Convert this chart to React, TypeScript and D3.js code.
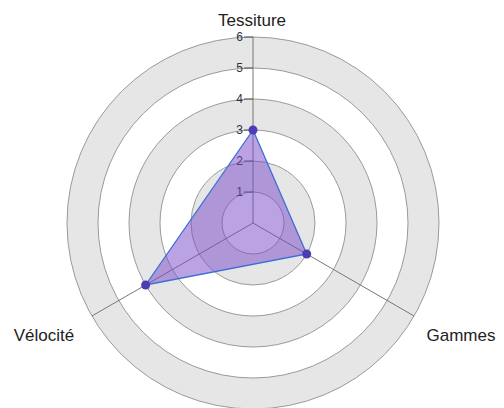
import React from "react";
import * as d3 from "d3";

const axes = ["Tessiture", "Gammes", "Vélocité"];
const values = [3, 2, 4];
const ticks = [1, 2, 3, 4, 5, 6];

const W = 504;
const H = 408;
const cx = 253;
const cy = 223;
const R = 186;

export default function App() {
  const r = d3.scaleLinear().domain([0, 6]).range([0, R]);
  const angle = (i: number) => (i * 2 * Math.PI) / axes.length;
  const pt = (i: number, v: number) => {
    const a = angle(i);
    return [Math.sin(a) * r(v), -Math.cos(a) * r(v)] as [number, number];
  };

  const line = d3.line().curve(d3.curveLinearClosed);
  const poly = line(values.map((v, i) => pt(i, v))) || "";

  const rings = ticks.slice().reverse();

  return (
    <svg
      width={W}
      height={H}
      style={{ position: "absolute", left: 0, top: 0, fontFamily: "'Liberation Sans', Arial, sans-serif" }}
    >
      <rect width={W} height={H} fill="#fff" />
      <g transform={`translate(${cx},${cy})`}>
        {rings.map(t => (
          <circle
            key={t}
            r={r(t)}
            fill={t % 2 === 0 ? "#e6e6e6" : "#ffffff"}
            stroke="#9a9a9a"
            strokeWidth={1}
          />
        ))}
        {axes.map((a, i) => {
          const [x, y] = pt(i, 6);
          return <line key={a} x1={0} y1={0} x2={x} y2={y} stroke="#777" strokeWidth={1} />;
        })}
        {ticks.map(t => (
          <g key={t}>
            <line x1={-9} x2={0} y1={-r(t)} y2={-r(t)} stroke="#555" strokeWidth={1} />
            <text x={-10} y={-r(t)} dy="0.35em" textAnchor="end" fontSize={12} fill="#2a3340">
              {t}
            </text>
          </g>
        ))}
        <path d={poly} fill="rgb(120,70,200)" fillOpacity={0.5} stroke="#3c6fd6" strokeWidth={1.3} />
        {values.map((v, i) => {
          const [x, y] = pt(i, v);
          return <circle key={i} cx={x} cy={y} r={4.5} fill="#4a3db5" />;
        })}
      </g>
      <text x={252} y={26} textAnchor="middle" fontSize={17} fill="#222">
        {axes[0]}
      </text>
      <text x={461} y={341} textAnchor="middle" fontSize={17} fill="#222">
        {axes[1]}
      </text>
      <text x={44} y={341} textAnchor="middle" fontSize={17} fill="#222">
        {axes[2]}
      </text>
    </svg>
  );
}
